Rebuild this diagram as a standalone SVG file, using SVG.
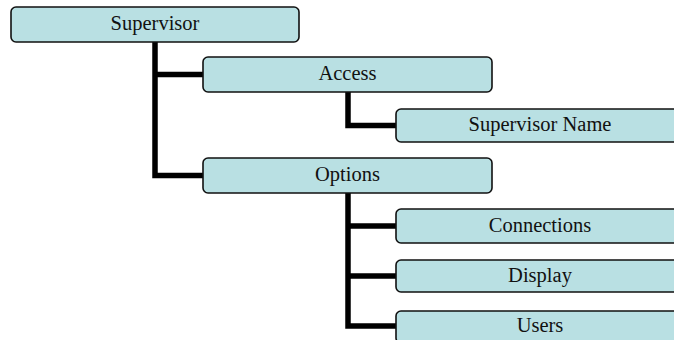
<svg xmlns="http://www.w3.org/2000/svg" width="674" height="340" viewBox="0 0 674 340">
<style>
.box{fill:#B9E0E3;stroke:#111;stroke-width:1.6}
.lbl{font-family:"Liberation Serif","Times New Roman",serif;font-size:20.5px;fill:#111;text-anchor:middle}
.con{fill:none;stroke:#000;stroke-width:5.5;stroke-linejoin:miter}
</style>
<rect width="674" height="340" fill="#fff"/>
<g id="connectors">
<path class="con" d="M155,42 V175.5 H203 M155,74.5 H203"/>
<path class="con" d="M348,92 V125.5 H396"/>
<path class="con" d="M348,193 V326 H396 M348,226 H396 M348,276 H396"/>
</g>
<g id="supervisor"><rect class="box" x="11" y="7" width="288" height="35" rx="5"/><text class="lbl" x="155" y="30">Supervisor</text></g>
<g id="access"><rect class="box" x="203" y="57" width="289" height="35" rx="5"/><text class="lbl" x="347.5" y="80">Access</text></g>
<g id="supervisor-name"><rect class="box" x="396" y="109" width="289" height="33" rx="5"/><text class="lbl" x="540" y="131">Supervisor Name</text></g>
<g id="options"><rect class="box" x="203" y="158" width="289" height="35" rx="5"/><text class="lbl" x="347.5" y="181">Options</text></g>
<g id="connections"><rect class="box" x="396" y="209" width="289" height="34" rx="5"/><text class="lbl" x="540" y="231.5">Connections</text></g>
<g id="display"><rect class="box" x="396" y="260" width="289" height="32" rx="5"/><text class="lbl" x="540" y="281.5">Display</text></g>
<g id="users"><rect class="box" x="396" y="311" width="289" height="32" rx="5"/><text class="lbl" x="540" y="332">Users</text></g>
</svg>
